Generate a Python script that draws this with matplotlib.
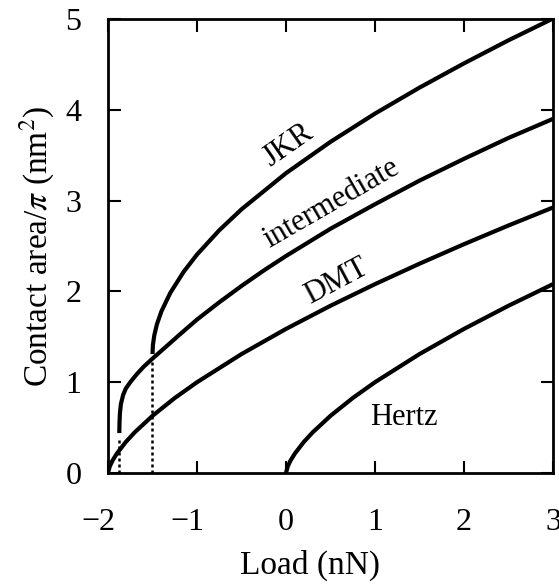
import matplotlib
matplotlib.use("Agg")
import matplotlib.pyplot as plt
from matplotlib.transforms import ScaledTranslation

plt.rcParams['font.family'] = ['Liberation Serif', 'DejaVu Serif']
plt.rcParams['mathtext.fontset'] = 'stix'

# Data (load in nN, contact area/pi in nm^2)
jkr_load = [-1.5, -1.495, -1.48, -1.45, -1.4, -1.3, -1.15, -1.0, -0.75, -0.5,
            0.0, 0.5, 1.0, 1.5, 2.0, 2.5, 3.0]
jkr_area = [1.310, 1.412, 1.516, 1.639, 1.780, 1.984, 2.216, 2.406, 2.673, 2.904,
            3.302, 3.647, 3.958, 4.244, 4.511, 4.765, 5.005]

int_load = [-1.873, -1.871, -1.866, -1.855, -1.83, -1.80, -1.75, -1.68, -1.60,
            -1.50, -1.35, -1.20, -1.00, -0.75, -0.50, -0.25, 0.0, 0.5, 1.0,
            1.5, 2.0, 2.5, 3.0]
int_area = [0.44, 0.55, 0.66, 0.76, 0.86, 0.93, 1.00, 1.085, 1.17,
            1.26, 1.39, 1.52, 1.69, 1.88, 2.06, 2.23, 2.39, 2.69, 2.96,
            3.22, 3.46, 3.69, 3.90]

dmt_load = [-2.0, -1.98, -1.95, -1.9, -1.8, -1.7, -1.5, -1.25, -1.0, -0.5,
            0.0, 0.5, 1.0, 1.5, 2.0, 2.5, 3.0]
dmt_area = [0.0, 0.074, 0.136, 0.215, 0.342, 0.448, 0.630, 0.826, 1.0, 1.310,
            1.587, 1.842, 2.080, 2.305, 2.520, 2.726, 2.924]

hertz_load = [0.0, 0.02, 0.05, 0.1, 0.2, 0.3, 0.5, 0.75, 1.0, 1.5, 2.0, 2.5, 3.0]
hertz_area = [0.0, 0.074, 0.136, 0.215, 0.342, 0.448, 0.630, 0.826, 1.0, 1.310,
              1.587, 1.842, 2.080]

# pull-off markers (dotted verticals)
pulloff_load = [-1.873, -1.5]
pulloff_area = [0.40, 1.24]

xticks = [-2, -1, 0, 1, 2, 3]
yticks = [0, 1, 2, 3, 4, 5]

fig = plt.figure(figsize=(5.59, 5.84), dpi=100)
ax = fig.add_axes([0.1932, 0.190, 0.7960, 0.7775])

lw = 3.0
ax.plot(jkr_load, jkr_area, color='black', lw=lw, solid_capstyle='butt')
ax.plot(int_load, int_area, color='black', lw=lw, solid_capstyle='butt')
ax.plot(dmt_load, dmt_area, color='black', lw=lw, solid_capstyle='butt')
ax.plot(hertz_load, hertz_area, color='black', lw=lw, solid_capstyle='butt')

for xl, yl in zip(pulloff_load, pulloff_area):
    ax.plot([xl, xl], [0, yl], color='black', lw=1.8, linestyle=(0, (1.2, 1.2)))

ax.set_xlim(-2, 3)
ax.set_ylim(0, 5)
ax.set_xticks(xticks)
ax.set_yticks(yticks)
ax.tick_params(direction='in', length=9, width=1.5, top=True, right=True,
               labelsize=23)
ax.tick_params(axis='x', pad=25)
ax.tick_params(axis='y', pad=19)
for s in ax.spines.values():
    s.set_linewidth(2.0)

ax.set_xlabel('Load (nN)', fontsize=24)
ax.xaxis.set_label_coords(0.455, -0.168)
ax.set_ylabel(r'Contact area/$\pi$ (nm$^2$)', fontsize=24, labelpad=6)

ax.text(0.03, 3.61, 'JKR', fontsize=22, rotation=35, ha='center', va='center')
ax.text(0.51, 2.97, 'intermediate', fontsize=22, rotation=30, ha='center', va='center')
ax.text(0.57, 2.11, 'DMT', fontsize=22, rotation=28, ha='center', va='center')
ax.text(1.32, 0.61, 'Hertz', fontsize=22, ha='center', va='center')

# centre the digit (not the minus sign) under negative ticks
fig.canvas.draw()
shift = ScaledTranslation(-0.095, 0, fig.dpi_scale_trans)
for lab in ax.get_xticklabels():
    if lab.get_text().startswith('\u2212') or lab.get_text().startswith('-'):
        lab.set_transform(lab.get_transform() + shift)

fig.savefig('out.png', dpi=100)
